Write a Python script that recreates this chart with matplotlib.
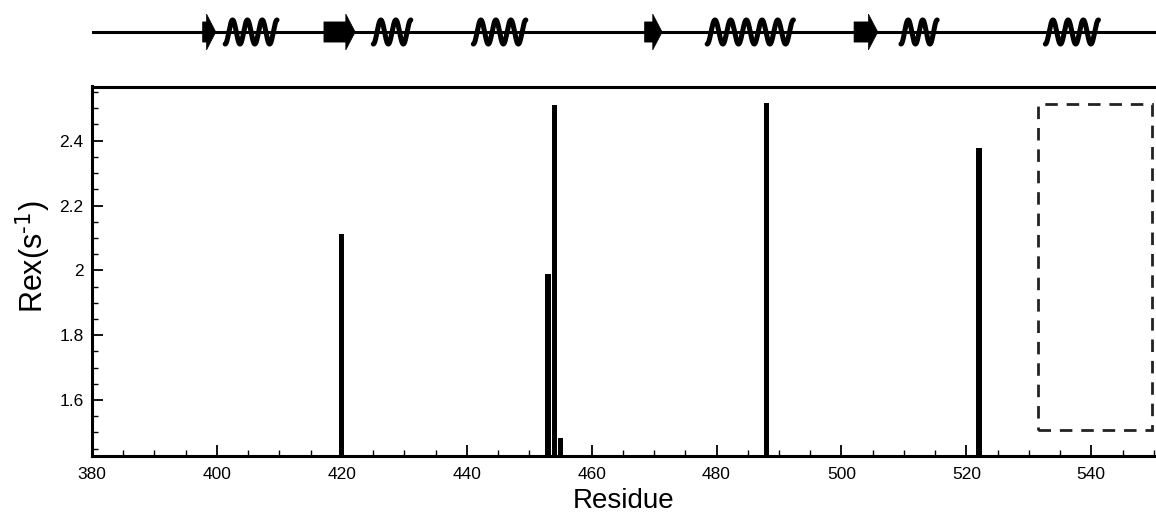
import numpy as np
import matplotlib.pyplot as plt
from matplotlib.patches import Rectangle, Polygon
from matplotlib.ticker import MultipleLocator, FormatStrFormatter

plt.rcParams['font.family'] = ['Liberation Sans', 'DejaVu Sans']

# Rex per residue
residues = [420, 453, 454, 455, 488, 522]
rex = [2.113, 1.989, 2.511, 1.483, 2.516, 2.378]

# secondary structure along the sequence
strand_start = [397.7, 417.1, 468.4, 501.9]
strand_end = [399.8, 422.1, 471.2, 505.7]
helix_start = [401.3, 425.0, 441.0, 478.4, 509.4, 532.5]
helix_end = [409.6, 431.0, 449.4, 492.2, 515.2, 541.0]
helix_turns = [3.5, 2.5, 3.5, 5.5, 2.5, 3.5]

# region with no assignments
box_x = (531.4, 549.7)
box_y = (1.507, 2.514)

XMIN, XMAX = 380, 550.2
YMIN, YMAX = 1.4275, 2.567

fig = plt.figure(figsize=(11.56, 5.14), dpi=100)
ax = fig.add_axes([92 / 1156, 58 / 514, 1063 / 1156, 369.5 / 514])
top = fig.add_axes([92 / 1156, 454 / 514, 1064 / 1156, 56 / 514])

ax.bar(residues, rex, width=0.85, color='black', bottom=0)
ax.add_patch(Rectangle((box_x[0], box_y[0]), box_x[1] - box_x[0], box_y[1] - box_y[0],
                       fill=False, edgecolor='#222222', linewidth=2.0,
                       linestyle=(0, (4.5, 3.2))))

ax.set_xlim(XMIN, XMAX)
ax.set_ylim(YMIN, YMAX)
ax.xaxis.set_major_locator(MultipleLocator(20))
ax.xaxis.set_minor_locator(MultipleLocator(5))
ax.yaxis.set_major_locator(MultipleLocator(0.2))
ax.yaxis.set_minor_locator(MultipleLocator(0.05))
ax.yaxis.set_major_formatter(FormatStrFormatter('%g'))
ax.tick_params(which='major', direction='in', length=8, width=1.3, labelsize=12.5, pad=8)
ax.tick_params(which='minor', direction='in', length=4, width=1.0)
ax.tick_params(axis='y', pad=6)
for side in ['left', 'top', 'bottom']:
    ax.spines[side].set_linewidth(2.2)
ax.spines['right'].set_visible(False)

ax.set_xlabel('Residue', fontsize=20, labelpad=4)
fig.text(0.0285, 0.5, r'Rex(s$^{\text{-1}}$)', fontsize=22, rotation=90,
         ha='center', va='center')

# secondary structure track
top.set_xlim(XMIN, XMAX)
top.set_ylim(-1, 1)
top.axis('off')
top.axhline(0, color='black', linewidth=2.2)

for s, e in zip(strand_start, strand_end):
    head = min(1.5, (e - s) * 0.7)
    base = e - head
    pts = [(s, -0.36), (base, -0.36), (base, -0.64), (e, 0), (base, 0.64), (base, 0.36), (s, 0.36)]
    top.add_patch(Polygon(pts, closed=True, facecolor='black', edgecolor='black', linewidth=0.5))

for s, e, n in zip(helix_start, helix_end, helix_turns):
    u = np.linspace(0, n * 2 * np.pi, 400)
    x = s + (e - s) * u / u[-1]
    y = -0.43 * np.cos(u)
    top.plot(x, y, color='black', linewidth=3.6, solid_capstyle='round')

fig.savefig('out.png', dpi=100)
